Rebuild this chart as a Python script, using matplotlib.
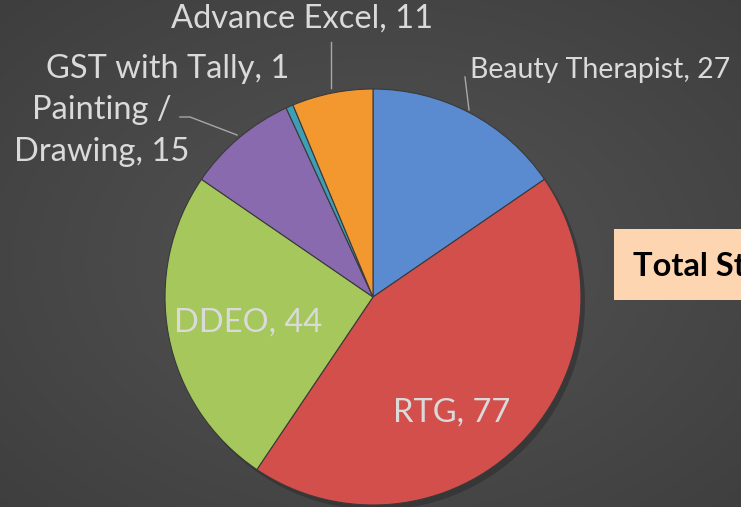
import numpy as np
import matplotlib.pyplot as plt
from matplotlib.patches import Rectangle

# slice data, clockwise from 12 o'clock
courses = ['Beauty Therapist', 'RTG', 'DDEO', 'Painting /\nDrawing', 'GST with Tally', 'Advance Excel']
counts = [27, 77, 44, 15, 1, 11]
colors = ['#5a8bd0', '#d24f4c', '#a5c75b', '#8a6aaf', '#3e9eb6', '#f3982f']

W, H = 741, 507
fig = plt.figure(figsize=(W / 100, H / 100), dpi=100)

# dark radial background
bg = fig.add_axes([0, 0, 1, 1])
yy, xx = np.mgrid[0:H, 0:W]
r = np.hypot((xx - 380) / W, (yy - 260) / H)
shade = 0.33 - 0.12 * r
bg.imshow(np.dstack([shade] * 3), extent=(0, W, 0, H), origin='upper', aspect='auto')
bg.set_axis_off()

ax = fig.add_axes([0, 0, 1, 1])
ax.set_aspect('equal')
ax.patch.set_alpha(0)

cx, cy, rad = 373, 210, 208
# soft shadow under the pie
ax.pie([1], colors=['#2e2e2e'], center=(cx + 4, cy - 5), radius=rad, frame=True,
       wedgeprops=dict(linewidth=0, alpha=0.6))
wedges, _ = ax.pie(counts, colors=colors, startangle=90, counterclock=False,
                   center=(cx, cy), radius=rad, frame=True,
                   wedgeprops=dict(edgecolor='#3a3a3a', linewidth=0.8))
ax.set_xlim(0, W)
ax.set_ylim(0, H)
ax.set_axis_off()

font = 'Lato'
txt = '#dadada'
fs = 23.5

# labels inside the big slices
ax.text(248, 184, f'{courses[2]}, {counts[2]}', color=txt, fontsize=fs, family=font,
        ha='center', va='center')
ax.text(452, 94, f'{courses[1]}, {counts[1]}', color=txt, fontsize=fs, family=font,
        ha='center', va='center')

# outside labels
ax.text(302, 488, f'{courses[5]}, {counts[5]}', color=txt, fontsize=fs, family=font,
        ha='center', va='center')
ax.text(168, 438, f'{courses[4]}, {counts[4]}', color=txt, fontsize=fs, family=font,
        ha='center', va='center')
ax.text(102, 376, f'{courses[3]}, {counts[3]}', color=txt, fontsize=fs, family=font,
        ha='center', va='center', linespacing=1.5)
ax.text(470, 437, f'{courses[0]}, {counts[0]}', color=txt, fontsize=20.5, family=font,
        ha='left', va='center')

# leader lines
lc = '#a8a8a8'
ax.plot([331, 331], [465, 419], color=lc, lw=1)
ax.plot([465, 469], [430, 397], color=lc, lw=1)
ax.plot([180, 190, 237], [390, 390, 372], color=lc, lw=1)

# total box at the right edge (cut off by the frame, as in the original)
ax.add_patch(Rectangle((614, 207), 140, 71, facecolor='#fdd5b1', edgecolor='none', clip_on=False))
ax.text(633, 241, 'Total Students : 175', color='black', fontsize=23.5, family=font,
        fontweight='bold', ha='left', va='center', clip_on=True)

fig.savefig('out.png', dpi=100)
